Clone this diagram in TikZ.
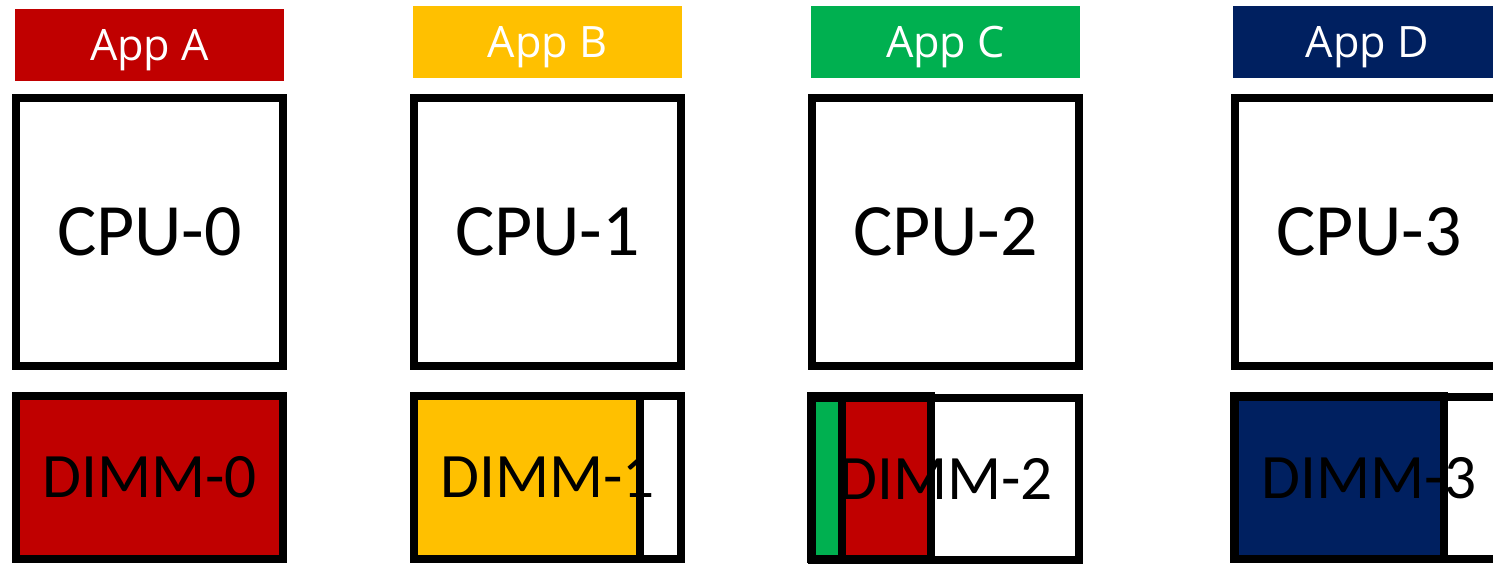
\documentclass[tikz,border=0pt]{standalone}
\usepackage{fontspec}
\setmainfont{Carlito}
\newfontfamily\appfont{Open Sans}
\definecolor{appred}{HTML}{C00000}
\definecolor{appyellow}{HTML}{FFC000}
\definecolor{appgreen}{HTML}{00B050}
\definecolor{appnavy}{HTML}{002060}
\tikzset{
	appbox/.style={minimum width=2.69cm, minimum height=0.72cm, inner sep=0pt, text depth=0pt, text=white, font=\appfont\fontsize{12.3}{15}\selectfont},
	cpubox/.style={draw, line width=0.08cm, minimum width=2.67cm, minimum height=2.68cm, inner sep=0pt, font=\fontsize{21}{25}\selectfont},
	dimmbox/.style={draw, line width=0.08cm, minimum width=2.67cm, minimum height=1.62cm, inner sep=0pt, font=\fontsize{18}{22}\selectfont},
	usedpart/.style={draw, line width=0.08cm, minimum height=1.63cm, inner sep=0pt},
}
\begin{document}
\begin{tikzpicture}[x=0.01cm, y=-0.01cm]
	\useasboundingbox (0,0) rectangle (1493,563);
	\clip (0,0) rectangle (1493,563);
	% applications
	\node (appa) [appbox, fill=appred] at (149.5,45) {App A};
	\node (appb) [appbox, fill=appyellow] at (547.5,42) {App B};
	\node (appc) [appbox, fill=appgreen] at (945.5,42) {App C};
	\node (appd) [appbox, fill=appnavy] at (1367.5,42) {App D};
	% processors
	\node (cpu0) [cpubox] at (149.5,232) {CPU-0};
	\node (cpu1) [cpubox] at (547.5,232) {CPU-1};
	\node (cpu2) [cpubox] at (945.5,232) {CPU-2};
	\node (cpu3) [cpubox] at (1369,232) {CPU-3};
	% memory used by each app
	\node (used0) [usedpart, fill=appred, minimum width=2.67cm] at (149.5,477.5) {};
	\node (used1) [usedpart, fill=appyellow, minimum width=2.26cm] at (527,477.5) {};
	\node (used2g) [usedpart, fill=appgreen, minimum width=0.31cm] at (826.5,477.5) {};
	\node (used2r) [usedpart, fill=appred, minimum width=0.89cm] at (886.5,477.5) {};
	\node (used3) [usedpart, fill=appnavy, minimum width=2.10cm] at (1339,477.5) {};
	% memory modules
	\node (dimm0) [dimmbox] at (149.5,477.5) {DIMM-0};
	\node (dimm1) [dimmbox] at (547.5,477.5) {DIMM-1};
	\node (dimm2) [dimmbox] at (945.5,479) {DIMM-2};
	\node (dimm3) [dimmbox] at (1369,478) {DIMM-3};
\end{tikzpicture}
\end{document}
